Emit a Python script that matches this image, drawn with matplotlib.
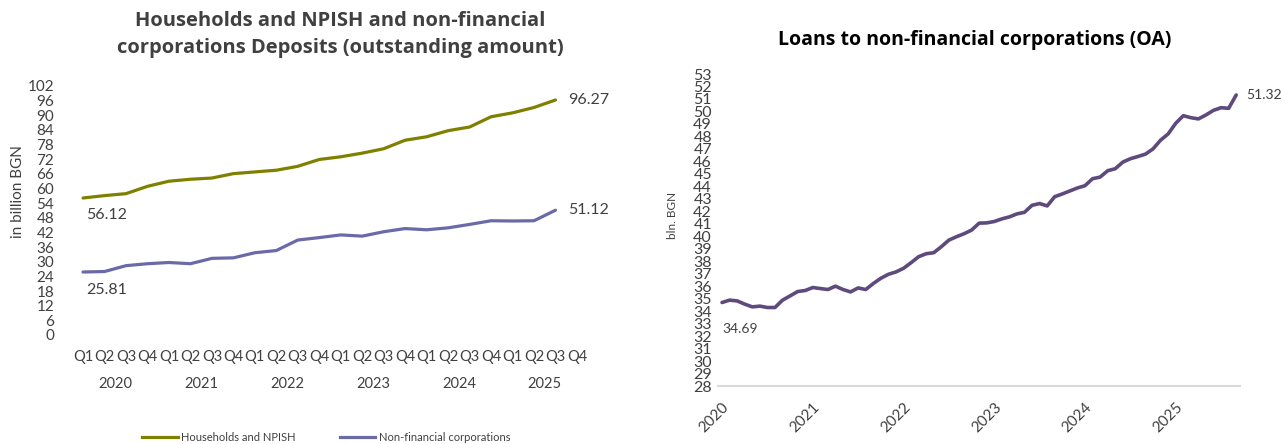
import matplotlib
matplotlib.use("Agg")
import matplotlib.pyplot as plt
from matplotlib.lines import Line2D
import matplotlib.transforms as mtransforms

plt.rcParams['font.family'] = ['Lato', 'DejaVu Sans']

# ---------------- data ----------------
quarters = ["Q1", "Q2", "Q3", "Q4"] * 6
years_left = ["2020", "2021", "2022", "2023", "2024", "2025"]
households = [56.12, 57.1, 57.9, 60.9, 63.0, 63.8, 64.3, 66.1, 66.8, 67.5, 69.1, 71.9,
              73.0, 74.5, 76.3, 79.8, 81.2, 83.7, 85.2, 89.4, 91.0, 93.2, 96.27]
nonfin = [25.81, 26.0, 28.4, 29.2, 29.7, 29.2, 31.4, 31.6, 33.7, 34.6, 38.9, 39.9,
          41.0, 40.5, 42.3, 43.6, 43.1, 43.9, 45.3, 46.8, 46.7, 46.8, 51.12]

loans = [34.69, 34.88, 34.82, 34.56, 34.34, 34.40, 34.29, 34.29, 34.88, 35.22, 35.57, 35.65,
         35.89, 35.81, 35.73, 36.00, 35.73, 35.54, 35.86, 35.73, 36.21, 36.63, 36.95, 37.14,
         37.43, 37.88, 38.36, 38.60, 38.68, 39.16, 39.69, 39.96, 40.20, 40.49, 41.05, 41.07,
         41.18, 41.39, 41.55, 41.79, 41.92, 42.48, 42.62, 42.43, 43.17, 43.39, 43.63, 43.87,
         44.05, 44.61, 44.74, 45.25, 45.41, 45.94, 46.21, 46.39, 46.58, 47.00, 47.70, 48.20,
         49.05, 49.66, 49.50, 49.40, 49.72, 50.09, 50.30, 50.25, 51.32]
years_right = ["2020", "2021", "2022", "2023", "2024", "2025"]

W, H = 1282, 444
fig = plt.figure(figsize=(W / 100, H / 100), dpi=100)

def ax_px(x0, y0, x1, y1):
    return fig.add_axes([x0 / W, 1 - y1 / H, (x1 - x0) / W, (y1 - y0) / H])

TXT = "#404040"
OLIVE = "#808000"
SLATE = "#6b6aa8"
PURPLE = "#5f4a7e"
TITLE_FONT = ['Open Sans', 'DejaVu Sans']

# ---------------- left chart ----------------
axL = ax_px(72.3, 86, 587.7, 335)
xs = list(range(len(households)))
axL.plot(xs, households, color=OLIVE, lw=2.3, solid_capstyle='round')
axL.plot(xs, nonfin, color=SLATE, lw=2.3, solid_capstyle='round')
axL.set_xlim(-0.5, 23.5)
axL.set_ylim(0, 102)
axL.set_yticks(range(0, 103, 6))
axL.set_xticks(range(24))
axL.set_xticklabels(quarters)
for s in axL.spines.values():
    s.set_visible(False)
axL.tick_params(axis='both', length=0, colors=TXT, labelsize=10.5)
axL.tick_params(axis='y', labelsize=11, pad=13)
axL.tick_params(axis='x', pad=11)
trans = mtransforms.blended_transform_factory(axL.transData, axL.transAxes)
for i, y in enumerate(years_left):
    axL.text(i * 4 + 1.5, -0.195, y, transform=trans, ha='center', va='center',
             color=TXT, fontsize=10.5)
fig.text(18 / W, 1 - 192 / H, "in billion BGN", rotation=90, ha='center', va='center',
         color=TXT, fontsize=11)
axL.annotate(f"{households[0]:.2f}", (0, households[0]), xytext=(3, -17), textcoords='offset pixels',
             ha='left', va='center', color=TXT, fontsize=11.5)
axL.annotate(f"{nonfin[0]:.2f}", (0, nonfin[0]), xytext=(3, -18), textcoords='offset pixels',
             ha='left', va='center', color=TXT, fontsize=11.5)
axL.annotate(f"{households[-1]:.2f}", (len(households) - 1, households[-1]), xytext=(13, 0),
             textcoords='offset pixels', ha='left', va='center', color=TXT, fontsize=11.5)
axL.annotate(f"{nonfin[-1]:.2f}", (len(nonfin) - 1, nonfin[-1]), xytext=(13, 0),
             textcoords='offset pixels', ha='left', va='center', color=TXT, fontsize=11.5)
fig.text(340 / W, 1 - 21 / H, "Households and NPISH and non-financial",
         ha='center', va='center', fontsize=14.5, fontweight='bold', color=TXT, family=TITLE_FONT)
fig.text(340 / W, 1 - 48 / H, "corporations Deposits (outstanding amount)",
         ha='center', va='center', fontsize=14.5, fontweight='bold', color=TXT, family=TITLE_FONT)
handles = [Line2D([], [], color=OLIVE, lw=2.3), Line2D([], [], color=SLATE, lw=2.3)]
fig.legend(handles, ["Households and NPISH", "Non-financial corporations"],
           loc='center left', bbox_to_anchor=(132 / W, 1 - 437 / H), ncol=2, frameon=False,
           fontsize=8, handlelength=3.2, handletextpad=0.3, columnspacing=4.0,
           labelcolor=TXT)

# ---------------- right chart ----------------
axR = ax_px(717.5, 74, 1240, 386)
xr = list(range(len(loans)))
axR.plot(xr, loans, color=PURPLE, lw=2.6, solid_capstyle='round', solid_joinstyle='round')
axR.set_xlim(-0.6, 68.5)
axR.set_ylim(28, 53)
axR.set_yticks(range(28, 54))
axR.set_xticks([0, 12, 24, 36, 48, 60])
axR.set_xticklabels(years_right, rotation=45, ha='right', rotation_mode='anchor')
for k, s in axR.spines.items():
    s.set_visible(k == 'bottom')
axR.spines['bottom'].set_color('#d9d9d9')
axR.spines['bottom'].set_linewidth(1.5)
axR.tick_params(axis='both', length=0, colors=TXT)
axR.tick_params(axis='y', labelsize=11.5, pad=4)
axR.tick_params(axis='x', labelsize=11, pad=10)
fig.text(672 / W, 1 - 215 / H, "bln. BGN", rotation=90, ha='center', va='center',
         color=TXT, fontsize=8.5)
axR.annotate(f"{loans[0]:.2f}", (0, loans[0]), xytext=(0, -26), textcoords='offset pixels',
             ha='left', va='center', color=TXT, fontsize=10)
axR.annotate(f"{loans[-1]:.2f}", (len(loans) - 1, loans[-1]), xytext=(10, 0),
             textcoords='offset pixels', ha='left', va='center', color=TXT, fontsize=10)
fig.text(975 / W, 1 - 40 / H, "Loans to non-financial corporations (OA)", ha='center',
         va='center', fontsize=14, fontweight='bold', color='#000000', family=TITLE_FONT)

fig.savefig("out.png", dpi=100)
